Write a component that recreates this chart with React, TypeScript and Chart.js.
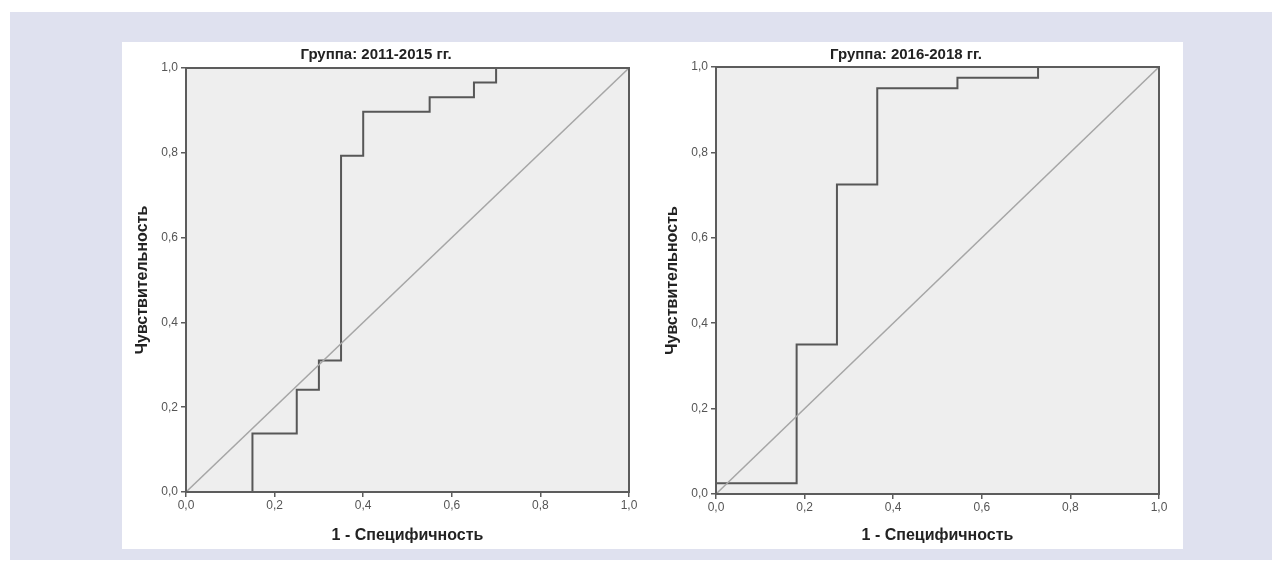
import React, { useEffect, useRef } from "react";
import { Chart, registerables } from "chart.js";

Chart.register(...registerables);

// ---- data ----
const titleLeft = "Группа: 2011-2015 гг.";
const titleRight = "Группа: 2016-2018 гг.";
const xAxisTitle = "1 - Специфичность";
const yAxisTitle = "Чувствительность";
const tickValues = [0, 0.2, 0.4, 0.6, 0.8, 1.0];

const fprLeft = [0, 0.15, 0.25, 0.3, 0.35, 0.4, 0.55, 0.65, 0.7, 1.0];
const tprLeft = [0, 0.138, 0.241, 0.31, 0.793, 0.897, 0.931, 0.966, 1.0, 1.0];

const fprRight = [0, 0, 0.182, 0.273, 0.364, 0.545, 0.727, 1.0];
const tprRight = [0, 0.025, 0.35, 0.725, 0.95, 0.975, 1.0, 1.0];

const refX = [0, 1];
const refY = [0, 1];

const FONT = "'Liberation Sans', Arial, sans-serif";

type RocProps = {
  title: string;
  fpr: number[];
  tpr: number[];
  left: number;
  width: number;
  plotTop: number;
  plotBottom: number;
};

function RocChart({ title, fpr, tpr, left, width, plotTop, plotBottom }: RocProps) {
  const ref = useRef<HTMLCanvasElement | null>(null);
  const height = 507;
  const plotLeft = 64;
  const plotRight = 507;

  useEffect(() => {
    if (!ref.current) return;
    const panelPlugin = {
      id: "panelDeco",
      beforeDatasetsDraw(chart: any) {
        const { ctx, chartArea: a } = chart;
        ctx.save();
        ctx.fillStyle = "#eeeeee";
        ctx.fillRect(a.left, a.top, a.right - a.left, a.bottom - a.top);
        ctx.restore();
      },
      afterDatasetsDraw(chart: any) {
        const { ctx, chartArea: a } = chart;
        ctx.save();
        ctx.strokeStyle = "#5c5c5c";
        ctx.lineWidth = 2;
        ctx.strokeRect(a.left, a.top, a.right - a.left, a.bottom - a.top);
        ctx.restore();
      },
      afterDraw(chart: any) {
        const { ctx, chartArea: a } = chart;
        ctx.save();
        ctx.font = `bold 15px ${FONT}`;
        ctx.fillStyle = "#222222";
        ctx.textAlign = "center";
        ctx.textBaseline = "middle";
        ctx.fillText(title, a.left + 190, 13);
        ctx.restore();
      },
    };

    const chart = new Chart(ref.current, {
      type: "scatter",
      data: {
        datasets: [
          {
            data: refX.map((x, i) => ({ x, y: refY[i] })),
            showLine: true,
            borderColor: "#a6a6a6",
            borderWidth: 1.5,
            pointRadius: 0,
          },
          {
            data: fpr.map((x, i) => ({ x, y: tpr[i] })),
            showLine: true,
            stepped: "before",
            borderColor: "#575757",
            borderWidth: 2,
            pointRadius: 0,
          },
        ],
      },
      options: {
        animation: false,
        responsive: false,
        devicePixelRatio: 1,
        layout: {
          padding: { left: 0, top: plotTop, right: width - plotRight, bottom: 0 },
        },
        plugins: {
          legend: { display: false },
          tooltip: { enabled: false },
          title: { display: false },
        },
        scales: {
          x: {
            type: "linear",
            min: 0,
            max: 1,
            afterBuildTicks: (s: any) => {
              s.ticks = tickValues.map((v) => ({ value: v }));
            },
            afterFit: (s: any) => {
              s.height = height - plotBottom;
            },
            grid: {
              drawOnChartArea: false,
              drawTicks: true,
              tickLength: 5,
              color: "#5c5c5c",
              lineWidth: 1.5,
            },
            border: { display: true, color: "#5c5c5c", width: 2 },
            ticks: {
              padding: 1,
              color: "#555555",
              font: { size: 12, family: FONT },
              maxRotation: 0,
              callback: (v: any) => Number(v).toFixed(1).replace(".", ","),
            },
            title: {
              display: true,
              text: xAxisTitle,
              color: "#222222",
              font: { size: 16, weight: "bold", family: FONT },
              padding: { top: 0, bottom: 4 },
            },
          },
          y: {
            type: "linear",
            min: 0,
            max: 1,
            afterBuildTicks: (s: any) => {
              s.ticks = tickValues.map((v) => ({ value: v }));
            },
            afterFit: (s: any) => {
              s.width = plotLeft;
            },
            grid: {
              drawOnChartArea: false,
              drawTicks: true,
              tickLength: 5,
              color: "#5c5c5c",
              lineWidth: 1.5,
            },
            border: { display: true, color: "#5c5c5c", width: 2 },
            ticks: {
              padding: 3,
              color: "#555555",
              font: { size: 12, family: FONT },
              callback: (v: any) => Number(v).toFixed(1).replace(".", ","),
            },
            title: {
              display: true,
              text: yAxisTitle,
              color: "#222222",
              font: { size: 16, weight: "bold", family: FONT },
              padding: { top: 11, bottom: 0 },
            },
          },
        },
      },
      plugins: [panelPlugin],
    } as any);
    return () => chart.destroy();
  }, [title, fpr, tpr, width, plotTop, plotBottom]);

  return (
    <canvas
      ref={ref}
      width={width}
      height={height}
      style={{ position: "absolute", left, top: 42, width, height }}
    />
  );
}

export default function App() {
  return (
    <div>
      <div
        style={{
          position: "absolute",
          left: 10,
          top: 12,
          width: 1262,
          height: 548,
          background: "#dfe1ef",
        }}
      />
      <div
        style={{
          position: "absolute",
          left: 122,
          top: 42,
          width: 1061,
          height: 507,
          background: "#ffffff",
        }}
      />
      <RocChart title={titleLeft} fpr={fprLeft} tpr={tprLeft} left={122} width={530} plotTop={26} plotBottom={450} />
      <RocChart title={titleRight} fpr={fprRight} tpr={tprRight} left={652} width={531} plotTop={25} plotBottom={452} />
    </div>
  );
}
